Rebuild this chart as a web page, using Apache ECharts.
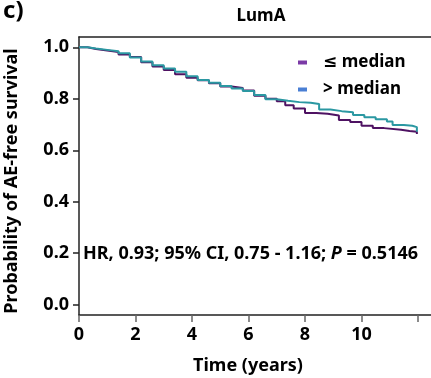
<!DOCTYPE html>
<html><head><meta charset="utf-8">
<script src="https://cdn.jsdelivr.net/npm/echarts@6/dist/echarts.min.js"></script>
<style>html,body{margin:0;padding:0;background:#fff}#c{width:431px;height:378px}</style>
</head><body><div id="c"></div>
<script>
const seriesNames = ['\u2264 median', '> median'];
const lowTime = [0,0.3,0.6,1.0,1.4,1.8,2.2,2.6,3.0,3.4,3.8,4.2,4.6,5.0,5.4,5.8,6.2,6.6,7.0,7.3,7.6,8.0,8.4,8.8,9.2,9.6,10.0,10.4,10.8,11.4,11.7,11.96];
const lowSurv = [1.0,0.993,0.988,0.982,0.972,0.962,0.942,0.925,0.912,0.895,0.882,0.872,0.86,0.848,0.842,0.832,0.812,0.8,0.79,0.775,0.762,0.745,0.742,0.735,0.718,0.71,0.695,0.686,0.68,0.675,0.672,0.663];
const highTime = [0,0.3,0.6,1.0,1.4,1.8,2.2,2.6,3.0,3.4,3.8,4.2,4.6,5.0,5.4,5.8,6.2,6.6,7.0,7.4,7.8,8.2,8.5,8.9,9.3,9.7,10.1,10.5,10.9,11.1,11.5,11.8,11.96];
const highSurv = [1.0,0.995,0.99,0.985,0.977,0.96,0.945,0.93,0.918,0.905,0.888,0.873,0.862,0.85,0.84,0.83,0.815,0.798,0.792,0.787,0.785,0.78,0.758,0.752,0.748,0.737,0.728,0.72,0.712,0.698,0.695,0.69,0.672];
const xTicks = [0,2,4,6,8,10,12];
const xTickLabels = ['0','2','4','6','8','10',''];
const yTicks = [0,0.2,0.4,0.6,0.8,1.0];
const yTickLabels = ['0.0','0.2','0.4','0.6','0.8','1.0'];

const zip = (a,b) => a.map((v,i)=>[v,b[i]]);
const FONT = '"Noto Sans", "DejaVu Sans", sans-serif';
const chart = echarts.init(document.getElementById('c'), null, {renderer:'canvas'});
const axisCol = '#222';
chart.setOption({
  animation:false,
  backgroundColor:'#fff',
  grid:{left:79,right:0,top:37,bottom:63,containLabel:false,outerBoundsMode:'none'},
  title:[
    {text:'c)',left:-2,top:-6,textStyle:{fontFamily:FONT,fontWeight:'bold',fontSize:24,color:'#000'}},
    {text:'LumA',left:256,top:3,textAlign:'center',textStyle:{fontFamily:FONT,fontWeight:'bold',fontSize:17,color:'#000'}}
  ],
  legend:{
    orient:'vertical',left:293,top:49,itemGap:10,itemWidth:9,itemHeight:4,
    icon:'rect',
    textStyle:{fontFamily:FONT,fontWeight:'bold',fontSize:17,color:'#000',padding:[0,0,0,11]},
    data:[{name:seriesNames[0],itemStyle:{color:'#7b3aa6'}},{name:seriesNames[1],itemStyle:{color:'#4a7fd4'}}]
  },
  xAxis:[{
    type:'value',min:0,max:12.46,position:'bottom',
    name:'Time (years)',nameLocation:'middle',nameGap:42,
    nameTextStyle:{fontFamily:FONT,fontWeight:'bold',fontSize:18,color:'#000',padding:[0,14,0,0]},
    axisLine:{show:true,onZero:false,lineStyle:{color:axisCol,width:1.5}},
    axisTick:{show:true,customValues:xTicks,length:7,lineStyle:{color:'#666',width:1.5}},
    axisLabel:{customValues:xTicks,formatter:v=>xTickLabels[xTicks.indexOf(v)] ?? '',fontFamily:FONT,fontWeight:'bold',fontSize:18,color:'#000',margin:11},
    splitLine:{show:false}
  },{
    type:'value',min:0,max:12.46,position:'top',
    axisLine:{show:true,onZero:false,lineStyle:{color:axisCol,width:1.5}},
    axisTick:{show:false},axisLabel:{show:false},splitLine:{show:false}
  }],
  yAxis:{
    type:'value',min:-0.04,max:1.04,
    name:'Probability of AE-free survival',nameLocation:'middle',nameGap:58,
    nameTextStyle:{fontFamily:FONT,fontWeight:'bold',fontSize:18,color:'#000',padding:[0,10,0,0]},
    axisLine:{show:true,onZero:false,lineStyle:{color:axisCol,width:1.5}},
    axisTick:{show:true,customValues:yTicks,length:6,lineStyle:{color:axisCol,width:1.5}},
    axisLabel:{customValues:yTicks,formatter:v=>{const i=yTicks.findIndex(t=>Math.abs(t-v)<1e-6);return i>=0?yTickLabels[i]:'';},fontFamily:FONT,fontWeight:'bold',fontSize:18,color:'#000',margin:10},
    splitLine:{show:false}
  },
  series:[
    {name:seriesNames[0],type:'line',step:'end',showSymbol:false,data:zip(lowTime,lowSurv),lineStyle:{color:'#4e1262',width:2},itemStyle:{color:'#7b3aa6'}},
    {name:seriesNames[1],type:'line',step:'end',showSymbol:false,data:zip(highTime,highSurv),lineStyle:{color:'#2b98a2',width:2},itemStyle:{color:'#4a7fd4'}}
  ],
  graphic:[{
    type:'text',x:83,y:254,
    style:{text:'HR, 0.93; 95% CI, 0.75 - 1.16; {i|P} = 0.5146',fontFamily:FONT,fontWeight:'bold',fontSize:18,fill:'#000',verticalAlign:'middle',
      rich:{i:{fontStyle:'italic',fontWeight:'bold',fontFamily:FONT,fontSize:18,fill:'#000'}}}
  }]
});
</script></body></html>
